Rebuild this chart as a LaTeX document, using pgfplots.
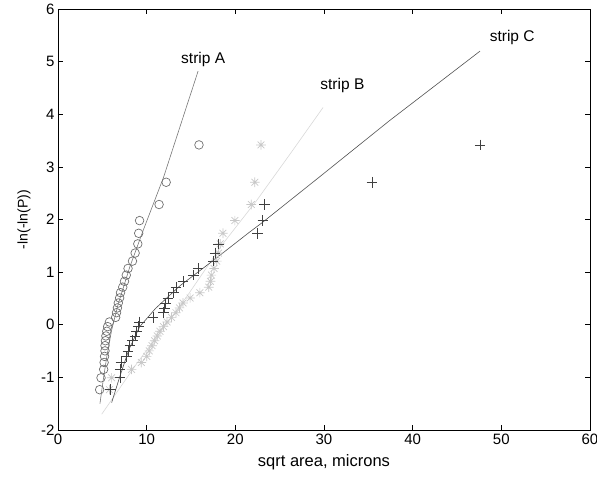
\documentclass[border=0pt]{standalone}
\usepackage{fontspec}
\setmainfont{Liberation Sans}
\usepackage{pgfplots}
\pgfplotsset{compat=1.18}
\definecolor{colA}{HTML}{707070}
\definecolor{colB}{HTML}{C8C8C8}
\definecolor{colC}{HTML}{404040}
\definecolor{lineA}{HTML}{787878}
\definecolor{lineB}{HTML}{D8D8D8}
\definecolor{lineC}{HTML}{505050}

% matlab style '*' marker: plus and cross together
\pgfdeclareplotmark{mstar}{%
  \pgfpathmoveto{\pgfqpoint{-\pgfplotmarksize}{0pt}}%
  \pgfpathlineto{\pgfqpoint{\pgfplotmarksize}{0pt}}%
  \pgfpathmoveto{\pgfqpoint{0pt}{-\pgfplotmarksize}}%
  \pgfpathlineto{\pgfqpoint{0pt}{\pgfplotmarksize}}%
  \pgfpathmoveto{\pgfqpoint{-0.707\pgfplotmarksize}{-0.707\pgfplotmarksize}}%
  \pgfpathlineto{\pgfqpoint{0.707\pgfplotmarksize}{0.707\pgfplotmarksize}}%
  \pgfpathmoveto{\pgfqpoint{-0.707\pgfplotmarksize}{0.707\pgfplotmarksize}}%
  \pgfpathlineto{\pgfqpoint{0.707\pgfplotmarksize}{-0.707\pgfplotmarksize}}%
  \pgfusepathqstroke}

\begin{document}
\begin{tikzpicture}
\useasboundingbox (-58pt,-50pt) rectangle (539pt,430pt);
\begin{axis}[
  at={(0,0)}, anchor=south west,
  scale only axis, width=532pt, height=421pt,
  xmin=0, xmax=60, ymin=-2, ymax=6,
  xtick={0,10,...,60}, ytick={-2,-1,...,6},
  xticklabels={0,10,20,30,40,50,60},
  yticklabels={-2,-1,0,1,2,3,4,5,6},
  xtick pos=both, ytick pos=both,
  tick align=inside, major tick length=5pt,
  tick style={black, line width=0.6pt},
  axis line style={line width=0.7pt},
  tick label style={font=\fontsize{15}{17}\selectfont},
  xlabel={sqrt area, microns},
  ylabel={-ln(-ln(P))},
  xlabel style={font=\fontsize{16.5}{18}\selectfont, at={(axis description cs:0.5,-0.076)}, anchor=center},
  ylabel style={font=\fontsize{14}{16}\selectfont, at={(axis description cs:-0.064,0.5)}, anchor=center},
]
% strip A
\addplot[only marks, mark=o, mark size=4.3pt, colA, line width=0.7pt] coordinates {
(4.7,-1.2337) (4.85,-1.0083) (5.15,-0.8482) (5.2,-0.7167) (5.25,-0.6013)
(5.3,-0.4961) (5.3,-0.3975) (5.35,-0.3035) (5.4,-0.2125) (5.5,-0.1235)
(5.6,-0.0355) (5.8,0.0523) (6.5,0.1404) (6.6,0.2295) (6.7,0.3203)
(6.8,0.4134) (6.95,0.5096) (7.05,0.6095) (7.3,0.7143) (7.5,0.8250)
(7.7,0.9430) (7.9,1.0702) (8.4,1.2090) (8.7,1.3628) (9.0,1.5366)
(9.1,1.7379) (9.2,1.9794) (11.4,2.2849) (12.2,2.7077) (15.9,3.4176)};
\addplot[lineA, line width=0.6pt] coordinates {
(4.73,-1.5) (5.1,-1.05) (5.5,-0.61) (6.05,-0.1) (6.8,0.4) (8.1,1.1)
(9.6,1.79) (11.9,2.8) (14.1,3.94) (15.8,4.82)};
% strip B
\addplot[only marks, mark=mstar, mark size=4.8pt, colB, line width=0.7pt] coordinates {
(5.8,-1.2337) (6.05,-1.0083) (8.3,-0.8482) (9.4,-0.7167) (10.0,-0.6013)
(10.3,-0.4961) (10.6,-0.3975) (10.9,-0.3035) (11.2,-0.2125) (11.5,-0.1235)
(11.9,-0.0355) (12.3,0.0523) (12.8,0.1404) (13.3,0.2295) (13.7,0.3203)
(14.1,0.4134) (14.9,0.5096) (16.0,0.6095) (17.0,0.7143) (17.2,0.8250)
(17.3,0.9430) (17.6,1.0702) (17.9,1.2090) (18.1,1.3628) (18.3,1.5366)
(18.6,1.7379) (19.95,1.9794) (21.8,2.2849) (22.2,2.7077) (22.9,3.4176)};
\addplot[lineB, line width=0.6pt] coordinates {
(4.93,-1.70) (8.87,-0.74) (14.5,0.53) (18.6,1.54) (22.4,2.36) (26.2,3.25) (29.9,4.13)};
% strip C
\addplot[only marks, mark=+, mark size=5.3pt, colC, line width=0.7pt] coordinates {
(5.9,-1.2337) (7.0,-1.0083) (7.0,-0.8482) (7.1,-0.7167) (7.7,-0.6013)
(7.9,-0.4961) (8.1,-0.3975) (8.4,-0.3035) (8.7,-0.2125) (8.85,-0.1235)
(9.05,-0.0355) (9.2,0.0523) (10.7,0.1404) (11.9,0.2295) (12.0,0.3203)
(12.1,0.4134) (12.4,0.5096) (13.0,0.6095) (13.3,0.7143) (14.1,0.8250)
(15.25,0.9430) (15.8,1.0702) (17.5,1.2090) (17.7,1.3628) (18.1,1.5366)
(22.5,1.7379) (23.1,1.9794) (23.3,2.2849) (35.4,2.7077) (47.6,3.4176)};
\addplot[lineC, line width=0.6pt] coordinates {
(6.05,-1.48) (7.0,-0.97) (8.0,-0.47) (9.2,-0.04) (11.0,0.31) (13.75,0.74)
(17.5,1.22) (21.6,1.76) (23.1,1.95) (29.5,2.81) (37.4,3.88) (47.6,5.2)};
\node[anchor=west, font=\fontsize{15.5}{17}\selectfont] at (axis cs:13.5,5.05) {strip A};
\node[anchor=west, font=\fontsize{15.5}{17}\selectfont] at (axis cs:29.2,4.54) {strip B};
\node[anchor=west, font=\fontsize{15.5}{17}\selectfont] at (axis cs:48.3,5.46) {strip C};
\end{axis}
\end{tikzpicture}
\end{document}
